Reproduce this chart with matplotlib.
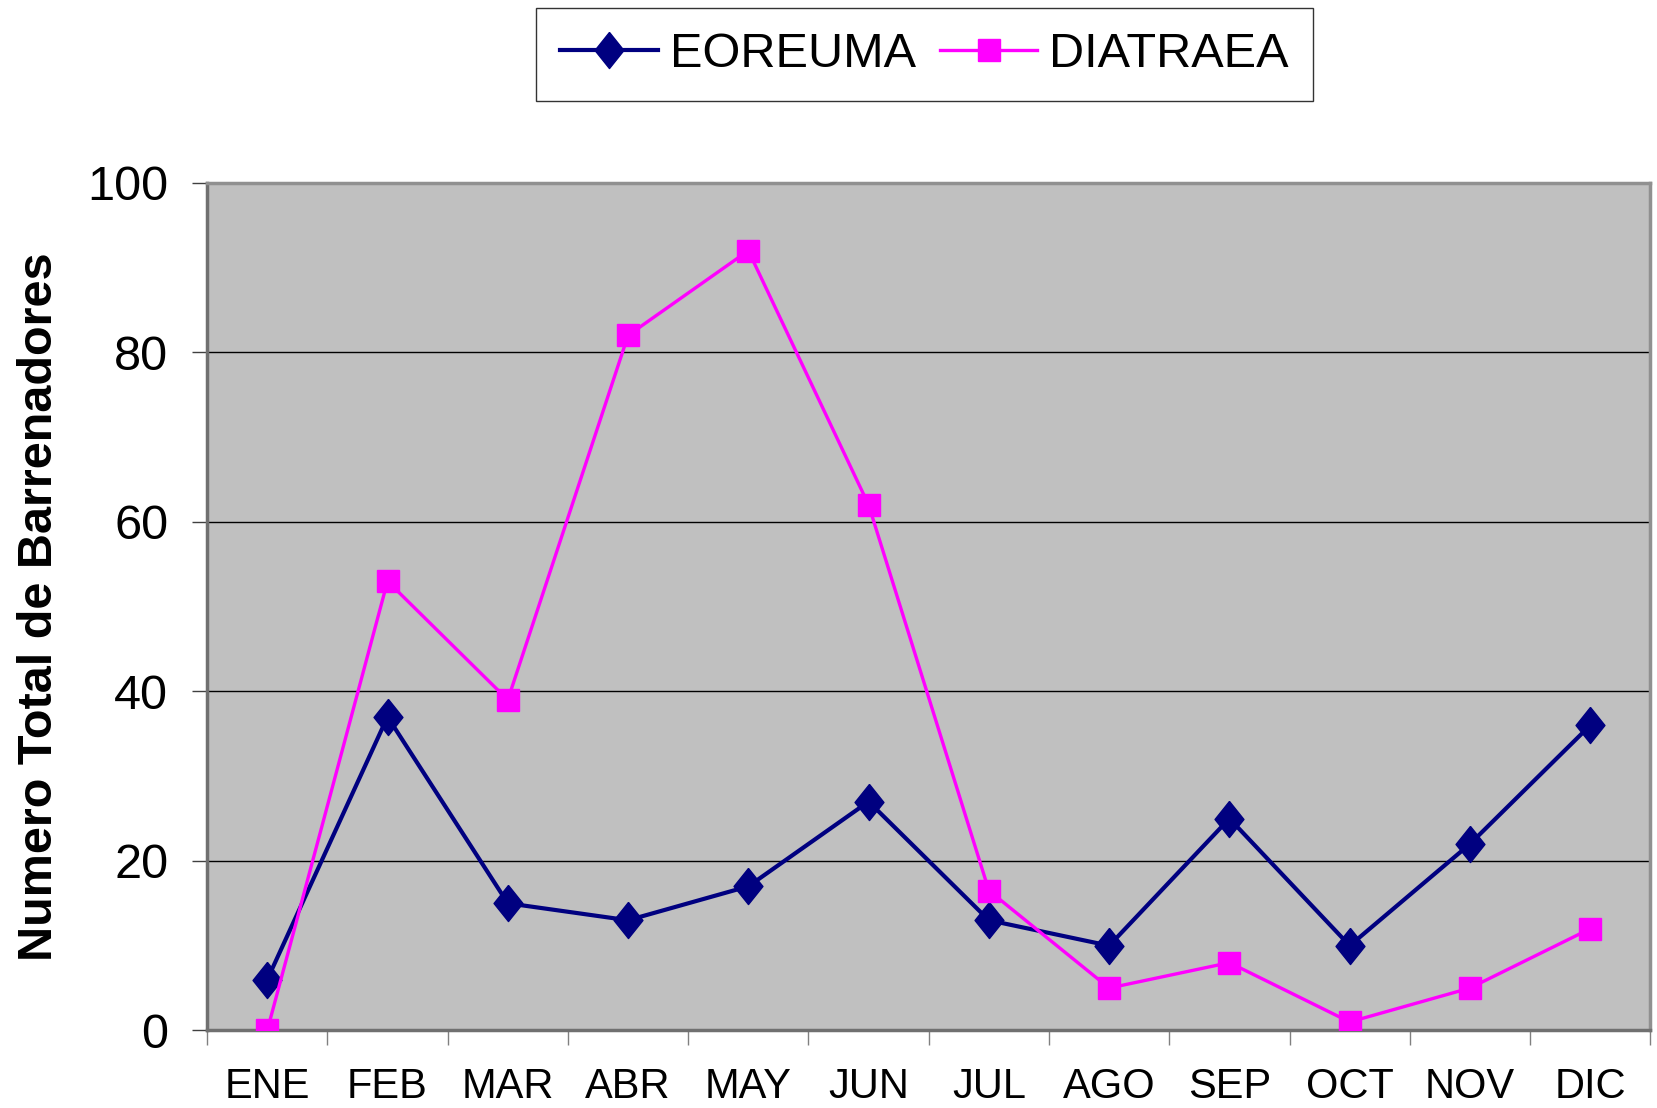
import matplotlib
matplotlib.use("Agg")
import matplotlib.pyplot as plt
from matplotlib.font_manager import findfont, FontProperties
import numpy as np

meses = ["ENE", "FEB", "MAR", "ABR", "MAY", "JUN", "JUL", "AGO", "SEP", "OCT", "NOV", "DIC"]
eoreuma = [6, 37, 15, 13, 17, 27, 13, 10, 25, 10, 22, 36]
diatraea = [0, 53, 39, 82, 92, 62, 16.5, 5, 8, 1, 5, 12]
y_ticks = [0, 20, 40, 60, 80, 100]

plt.rcParams['font.family'] = ['Liberation Sans', 'DejaVu Sans']
# fuente estrecha para los meses, si existe
narrow = 'Liberation Sans Narrow'
try:
    findfont(FontProperties(family=narrow), fallback_to_default=False)
    mes_font = [narrow, 'Liberation Sans']
    mes_size = 33
except Exception:
    mes_font = ['Liberation Sans']
    mes_size = 30

fig = plt.figure(figsize=(16.57, 11.08), dpi=100)
ax = fig.add_axes([0.125, 0.070, 0.871, 0.765])
ax.set_facecolor('#C0C0C0')

x = np.arange(len(meses))

# marcador rombo alargado
rombo = [(0, 1), (0.8, 0), (0, -1), (-0.8, 0), (0, 1)]

l1, = ax.plot(x, eoreuma, color='#000080', lw=3.0, marker=rombo, ms=26,
              mfc='#000080', mec='#000080', label='EOREUMA', zorder=3)
l2, = ax.plot(x, diatraea, color='#FF00FF', lw=2.4, marker='s', ms=16,
              mfc='#FF00FF', mec='#FF00FF', label='DIATRAEA', zorder=4)

ax.set_xlim(-0.5, len(meses) - 0.5)
ax.set_ylim(0, 100)
ax.set_yticks(y_ticks)
ax.yaxis.grid(True, color='black', lw=1.0)
ax.set_axisbelow(True)

ax.set_xticks(x)
ax.set_xticklabels(meses, fontsize=mes_size, family=mes_font)
ax.set_xticks(np.arange(-0.5, len(meses), 1), minor=True)
ax.tick_params(axis='x', which='major', length=0, pad=26)
ax.tick_params(axis='x', which='minor', length=11, width=1.0, color='#808080', direction='out')
ax.tick_params(axis='y', length=11, width=1.0, color='#404040', direction='out', pad=17, labelsize=35)

for s in ['left', 'bottom']:
    ax.spines[s].set_color('#707070')
    ax.spines[s].set_linewidth(2.5)
for s in ['top', 'right']:
    ax.spines[s].set_color('#909090')
    ax.spines[s].set_linewidth(2.5)

ax.set_ylabel('Numero Total de Barrenadores', fontsize=35, fontweight='bold', labelpad=18)

leg = fig.legend(handles=[l1, l2], loc='upper center', bbox_to_anchor=(0.558, 0.993), ncol=2,
                 fontsize=35, frameon=True, fancybox=False, edgecolor='black', borderaxespad=0,
                 handlelength=2.0, handletextpad=0.25, columnspacing=0.5, borderpad=0.5)
leg.get_frame().set_linewidth(1.0)

fig.savefig('out.png', dpi=100)
